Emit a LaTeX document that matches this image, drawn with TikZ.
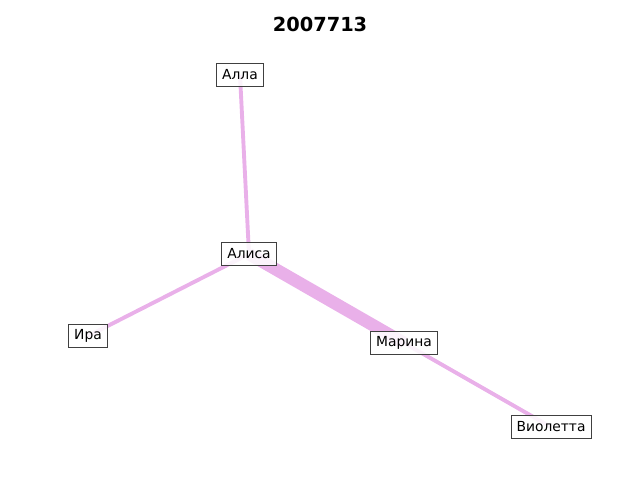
\documentclass[tikz,border=0pt]{standalone}
\usepackage{fontspec}
\setmainfont{DejaVu Sans}
\definecolor{edgepink}{RGB}{233,176,233}
\definecolor{boxgray}{RGB}{64,64,64}
\tikzset{
  person/.style={draw=boxgray, line width=0.7pt, fill=white, fill opacity=0.85, draw opacity=1, text opacity=1, inner xsep=4pt, minimum height=17pt, font=\fontsize{10}{12}\selectfont},
  tie/.style={draw=edgepink, line width=2.8pt},
  bigtie/.style={draw=edgepink, line width=9pt}
}
\begin{document}
\begin{tikzpicture}[x=0.01in, y=-0.01in]
        \useasboundingbox (0,0) rectangle (640,480);
        \node[font=\fontsize{14}{16}\bfseries] (title) at (320,24) {2007713};

        % edges first, boxes on top
        \coordinate (alla) at (240,75);
        \coordinate (alisa) at (249,254);
        \coordinate (ira) at (88,336);
        \coordinate (marina) at (404,343);
        \coordinate (violetta) at (551,427);
        \draw[tie] (alla) -- (alisa);
        \draw[tie] (alisa) -- (ira);
        \draw[bigtie] (alisa) -- (marina);
        \draw[tie] (marina) -- (violetta);

        \node[person] (n1) at (alla) {Алла};
        \node[person] (n2) at (alisa) {Алиса};
        \node[person] (n3) at (ira) {Ира};
        \node[person] (n4) at (marina) {Марина};
        \node[person] (n5) at (violetta) {Виолетта};
    \end{tikzpicture}
\end{document}
